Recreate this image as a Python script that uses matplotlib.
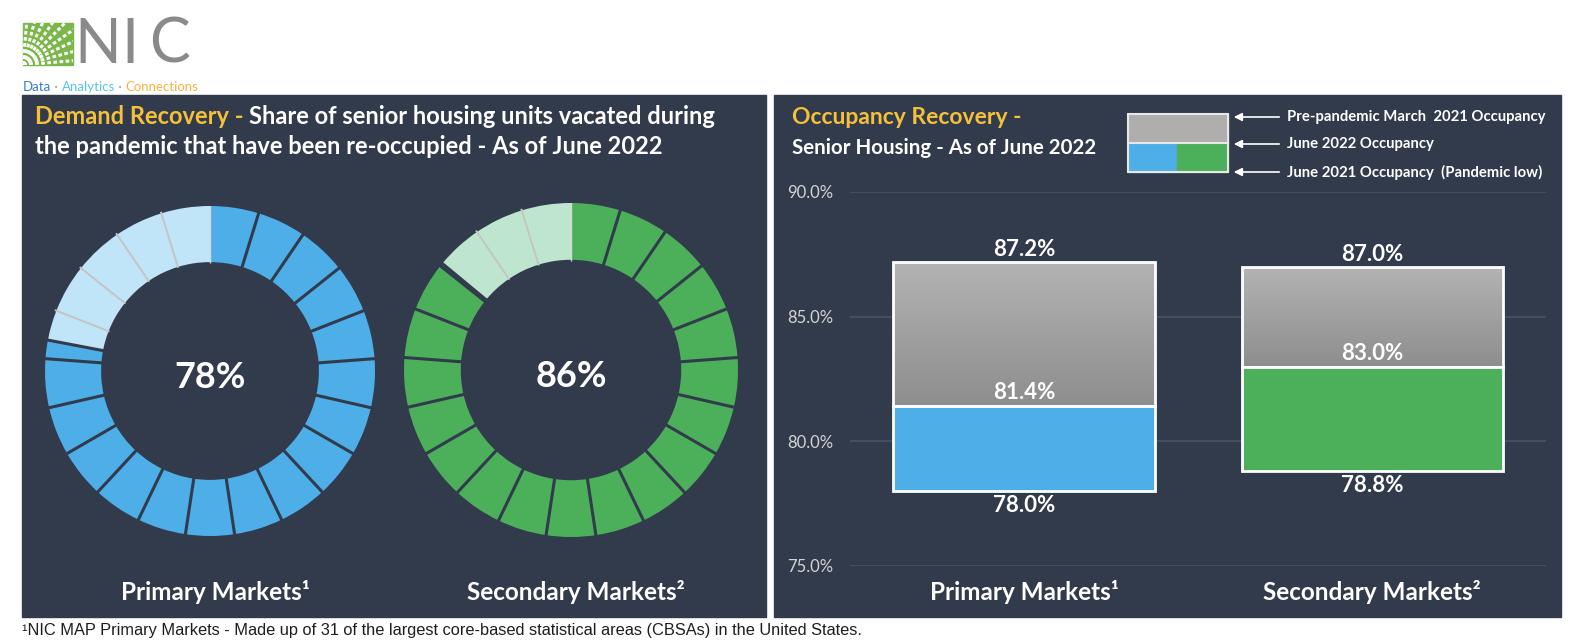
import numpy as np
import matplotlib
matplotlib.use('Agg')
import matplotlib.pyplot as plt
from matplotlib.patches import Rectangle
from matplotlib.colors import LinearSegmentedColormap

plt.rcParams['font.family'] = ['Lato', 'DejaVu Sans']

# ---- data ----
markets = ['Primary Markets¹', 'Secondary Markets²']
reoccupied_pct = [78, 86]
n_segments = 21
occ_low = [78.0, 78.8]   # June 2021 (pandemic low)
occ_now = [81.4, 83.0]   # June 2022
occ_pre = [87.2, 87.0]   # pre-pandemic
y_ticks = [75, 80, 85, 90]
legend_labels = ['Pre-pandemic March  2021 Occupancy', 'June 2022 Occupancy',
                 'June 2021 Occupancy  (Pandemic low)']

BG = '#323b4c'
BLUE, LIGHT_BLUE = '#4eaee8', '#c0e4f8'
GREEN, LIGHT_GREEN = '#4caf5a', '#bee6cf'
GOLD = '#f5c13b'

W, H = 1582, 644
fig = plt.figure(figsize=(W / 100, H / 100), dpi=100)
bg = fig.add_axes([0, 0, 1, 1])
bg.set_xlim(0, W)
bg.set_ylim(H, 0)
bg.axis('off')


def px_axes(x0, y0, x1, y1):
    a = fig.add_axes([x0 / W, 1 - y1 / H, (x1 - x0) / W, (y1 - y0) / H])
    a.patch.set_alpha(0)
    return a


def chain_text(ax, x, y, parts, **kw):
    t = ax.text(x, y, parts[0][0], color=parts[0][1], va='bottom', **kw)
    for s, c in parts[1:]:
        t = ax.annotate(s, xy=(1, 0), xycoords=t, va='bottom', color=c, **kw)
    return t


# panels
bg.add_patch(Rectangle((22, 95), 744, 522, color=BG, zorder=0))
bg.add_patch(Rectangle((774, 95), 787, 522, color=BG, zorder=0))

# logo
bg.add_patch(Rectangle((23, 23), 50, 42, color='#7ab648', zorder=1))
clip = Rectangle((23, 23), 50, 42, transform=bg.transData)
for ang in np.linspace(5, 85, 9):
    a = np.deg2rad(ang)
    ln, = bg.plot([23, 23 + 80 * np.cos(a)], [65, 65 - 80 * np.sin(a)],
                  color='white', lw=2.2, ls=(0, (1.2, 0.8)), zorder=2)
    ln.set_clip_path(clip)
for letter, cx in zip('NIC', [98, 130, 169]):
    bg.text(cx, 45, letter, fontsize=44, color='#8a8a8a', va='center',
            ha='center')
chain_text(bg, 23, 93, [('Data', '#3b7dc0'), (' · ', '#999999'),
                        ('Analytics', '#5bc2e7'), (' · ', '#999999'),
                        ('Connections', '#f6b43f')], fontsize=9.5)

# left titles
chain_text(bg, 35, 128, [('Demand Recovery - ', GOLD),
                         ('Share of senior housing units vacated during', 'white')],
           fontsize=17, fontweight='bold')
bg.text(35, 158, 'the pandemic that have been re-occupied - As of June 2022',
        color='white', fontsize=17, fontweight='bold', va='bottom')

# right titles
bg.text(792, 128, 'Occupancy Recovery -', color=GOLD, fontsize=16.5,
        fontweight='bold', va='bottom')
bg.text(792, 158, 'Senior Housing - As of June 2022', color='white',
        fontsize=14.8, fontweight='bold', va='bottom')


# donuts
def donut(ax, pct, color, light):
    f = pct / 100
    edges = list(np.arange(n_segments + 1) / n_segments)
    pieces = sorted(set(np.round(edges, 6)) | {round(f, 6)})
    sizes = np.diff(pieces)
    cols = [color if p < f else light for p in pieces[:-1]]
    ax.pie(sizes, colors=cols, startangle=90, counterclock=False, radius=1,
           wedgeprops=dict(width=0.34, linewidth=0))
    for t in pieces[:-1]:
        a = np.deg2rad(90 - 360 * t)
        if t == 0:
            c, lw = '#d6d6d6', 1.0
        elif t <= f + 1e-9:
            c, lw = BG, 2.2
        else:
            c, lw = '#c4c4c4', 1.4
        ax.plot([0.655 * np.cos(a), 1.01 * np.cos(a)],
                [0.655 * np.sin(a), 1.01 * np.sin(a)], color=c, lw=lw,
                solid_capstyle='butt')
    ax.text(0, -0.04, f'{pct}%', ha='center', va='center', color='white',
            fontsize=26, fontweight='bold')
    ax.set_xlim(-1, 1)
    ax.set_ylim(-1, 1)
    ax.axis('off')


ax1 = px_axes(45, 206, 375, 536)
donut(ax1, reoccupied_pct[0], BLUE, LIGHT_BLUE)
ax2 = px_axes(404, 203, 738, 537)
donut(ax2, reoccupied_pct[1], GREEN, LIGHT_GREEN)
for cx, lab in zip([215, 576], markets):
    bg.text(cx, 592, lab, color='white', fontsize=17.5, fontweight='bold',
            ha='center', va='center')

# occupancy bars
ax = px_axes(850, 192, 1546, 566)
cmap = LinearSegmentedColormap.from_list('g', ['#8e8e8e', '#b3b3b3'])
grad = np.linspace(0, 1, 200).reshape(-1, 1)
width = 0.75
fills = [BLUE, GREEN]
for i in range(len(markets)):
    lo, mid, hi = occ_low[i], occ_now[i], occ_pre[i]
    ax.bar(i, mid - lo, bottom=lo, width=width, color=fills[i],
           edgecolor='white', lw=2, zorder=3)
    top = ax.bar(i, hi - mid, bottom=mid, width=width, fill=False,
                 edgecolor='white', lw=2, zorder=4)[0]
    im = ax.imshow(grad, extent=[i - width / 2, i + width / 2, mid, hi],
                   origin='lower', cmap=cmap, aspect='auto', zorder=2)
    im.set_clip_path(top)
    kw = dict(ha='center', color='white', fontsize=16, fontweight='bold',
              textcoords='offset points', zorder=5)
    ax.annotate(f'{hi:.1f}%', (i, hi), xytext=(0, 4.5), va='baseline', **kw)
    ax.annotate(f'{mid:.1f}%', (i, mid), xytext=(0, 5), va='baseline', **kw)
    ax.annotate(f'{lo:.1f}%', (i, lo), xytext=(0, -3), va='top', **kw)

ax.set_xlim(-0.5, 1.5)
ax.set_ylim(75, 90)
ax.set_yticks(y_ticks)
ax.set_yticklabels([f'{v:.1f}%' for v in y_ticks])
ax.set_xticks(range(len(markets)))
ax.set_xticklabels(markets, fontsize=17.5, fontweight='bold', color='white')
ax.tick_params(axis='y', length=0, pad=12, labelsize=12, labelcolor='#d4d4d4')
ax.tick_params(axis='x', length=0, pad=10)
ax.grid(axis='y', color='#4a5366', lw=1.2, zorder=0)
ax.set_axisbelow(True)
for s in ax.spines.values():
    s.set_visible(False)

# legend key
bg.add_patch(Rectangle((1128, 114), 100, 29, color='#b0aeac', zorder=2))
bg.add_patch(Rectangle((1128, 143), 49, 29, color=BLUE, zorder=2))
bg.add_patch(Rectangle((1177, 143), 51, 29, color=GREEN, zorder=2))
bg.add_patch(Rectangle((1128, 114), 100, 58, fill=False, ec='#e8e8e8',
                       lw=1.5, zorder=3))
bg.plot([1128, 1228], [143, 143], color='#e8e8e8', lw=1.5, zorder=3)
for yy, lab in zip([117, 144, 172], legend_labels):
    bg.annotate('', xy=(1231, yy), xytext=(1282, yy),
                arrowprops=dict(arrowstyle='-|>', color='white', lw=1.2,
                                mutation_scale=12))
    bg.text(1287, yy, lab, color='white', fontsize=10.7, fontweight='bold',
            va='center', ha='left')

# footnote
bg.text(22, 630, '¹NIC MAP Primary Markets - Made up of 31 of the largest '
        'core-based statistical areas (CBSAs) in the United States.',
        color='#1e1e1e', fontsize=11.8, va='center', ha='left',
        family=['Liberation Sans Narrow', 'Liberation Sans', 'DejaVu Sans'])

fig.savefig('out.png', dpi=100)
